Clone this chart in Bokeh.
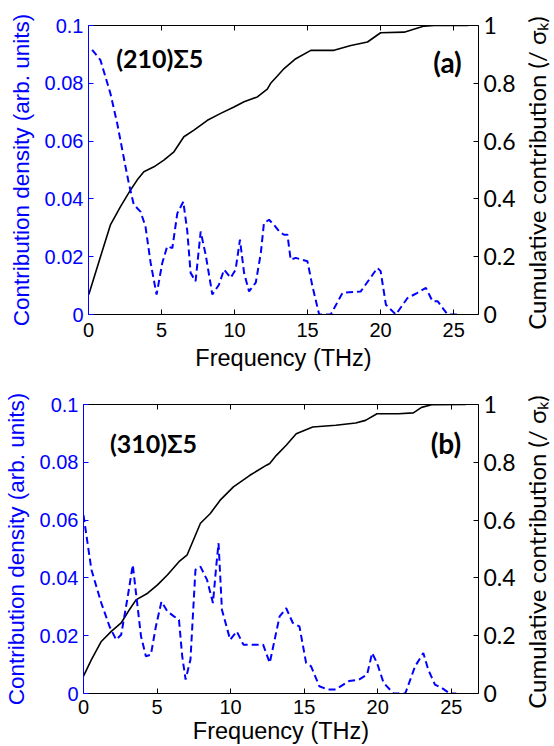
import math
from bokeh.plotting import figure
from bokeh.models import Range1d, LinearAxis, Label, CustomJSTickFormatter, FixedTicker
from bokeh.layouts import column, row
from bokeh.embed import file_html
from bokeh.resources import INLINE

# ---- Panel (a): (210)Σ5 ----
a_dens_f = [0.25, 0.82, 1.5, 1.97, 2.54, 2.76, 3.1, 3.56, 3.9, 4.25, 4.66, 5.05, 5.39, 5.74, 6.08, 6.49,
            6.76, 6.99, 7.33, 7.68, 8.02, 8.48, 8.93, 9.28, 9.73, 10.07, 10.37, 10.65, 10.99, 11.45,
            11.8, 12.01, 12.36, 12.7, 13.1, 13.39, 13.62, 13.84, 14.19, 14.99, 15.33, 15.79, 16.59,
            17.39, 18.64, 19.78, 20.0, 20.36, 21.04, 21.84, 22.52, 23.1, 23.55, 23.9, 24.58, 25.38]
a_dens = [0.0916, 0.088, 0.0765, 0.066, 0.051, 0.0454, 0.038, 0.0356, 0.0305, 0.018, 0.0069, 0.0178,
          0.0236, 0.023, 0.035, 0.039, 0.029, 0.0144, 0.0115, 0.0287, 0.0207, 0.0069, 0.0103, 0.0155,
          0.0127, 0.0155, 0.0259, 0.0144, 0.008, 0.011, 0.0213, 0.0316, 0.0328, 0.031, 0.0285, 0.0276,
          0.0276, 0.019, 0.0196, 0.0184, 0.0098, 0.0, 0.0, 0.0075, 0.008, 0.0161, 0.015, 0.0034, 0.0,
          0.0057, 0.0075, 0.0092, 0.0046, 0.0046, 0.0, 0.0]
a_cum_f = [0.02, 0.82, 1.5, 2.19, 2.88, 3.34, 3.79, 4.48, 5.16, 5.85, 6.53, 7.22, 8.14, 9.05, 9.96,
           10.65, 11.56, 12.24, 12.47, 12.93, 13.39, 14.19, 15.22, 16.81, 17.96, 19.1, 20.0, 21.61,
           22.98, 23.67, 26.0]
a_cum = [0.069, 0.2, 0.31, 0.373, 0.431, 0.466, 0.494, 0.511, 0.534, 0.563, 0.615, 0.638, 0.672,
         0.696, 0.718, 0.736, 0.753, 0.78, 0.80, 0.825, 0.851, 0.885, 0.914, 0.914, 0.931, 0.943,
         0.975, 0.977, 0.998, 1.0, 1.0]

# ---- Panel (b): (310)Σ5 ----
b_dens_f = [0.0, 0.54, 1.21, 1.77, 2.22, 2.56, 3.01, 3.35, 3.57, 3.91, 4.24, 4.58, 4.92, 5.3, 5.7,
            6.15, 6.49, 6.71, 6.94, 7.27, 7.61, 7.95, 8.4, 8.8, 9.02, 9.18, 9.41, 9.97, 10.42, 10.87,
            12.21, 12.66, 13.33, 13.78, 14.23, 14.68, 15.13, 15.47, 16.03, 16.59, 17.15, 18.05,
            18.72, 19.28, 19.62, 19.95, 20.4, 21.08, 21.87, 22.54, 23.1, 23.43, 23.89, 24.33, 24.9, 25.34]
b_dens = [0.0617, 0.0428, 0.0313, 0.0232, 0.0186, 0.0203, 0.0336, 0.0445, 0.0347, 0.0198, 0.0129,
          0.0134, 0.0232, 0.0318, 0.0284, 0.0267, 0.0255, 0.0129, 0.0048, 0.0117, 0.0428, 0.0439,
          0.0393, 0.0313, 0.0439, 0.052, 0.029, 0.0186, 0.0215, 0.0169, 0.0169, 0.0106, 0.0267,
          0.0295, 0.0244, 0.0232, 0.0106, 0.0094, 0.0025, 0.0014, 0.0014, 0.0043, 0.0048, 0.0066,
          0.014, 0.0106, 0.0037, 0.0, 0.0, 0.0094, 0.014, 0.0083, 0.0031, 0.002, 0.0, 0.0]
b_cum_f = [0.0, 0.54, 1.21, 1.89, 2.56, 3.12, 3.57, 4.36, 5.03, 5.7, 6.49, 7.05, 7.95, 8.62, 9.29,
           10.19, 11.31, 12.44, 12.66, 13.11, 13.78, 14.46, 15.58, 17.15, 18.5, 19.17, 19.95, 21.41,
           22.42, 22.98, 23.66, 26.0]
b_cum = [0.06, 0.117, 0.18, 0.215, 0.244, 0.29, 0.324, 0.347, 0.376, 0.41, 0.456, 0.48, 0.589, 0.623,
         0.669, 0.715, 0.755, 0.79, 0.796, 0.824, 0.859, 0.899, 0.922, 0.928, 0.936, 0.945, 0.968,
         0.968, 0.971, 0.99, 0.999, 1.0]

x_ticks = [0, 5, 10, 15, 20, 25]
left_ticks = [0, 0.02, 0.04, 0.06, 0.08, 0.1]
right_ticks = [0, 0.2, 0.4, 0.6, 0.8, 1.0]

x_label = "Frequency (THz)"
left_label = "Contribution density (arb. units)"
right_label = "Cumulative contribution (/  σₖ)"

BLUE = "#0000FF"
FONT = "Liberation Sans"
FONT2 = "Lato"
FMT = "return parseFloat(tick.toFixed(4)).toString();"


def style_axis(ax, color, ticks, tick_font=FONT, tick_size="20px", lab_font=FONT, lab_size="22.5px"):
    ax.ticker = FixedTicker(ticks=ticks)
    ax.formatter = CustomJSTickFormatter(code=FMT)
    ax.axis_line_color = color
    ax.major_tick_line_color = color
    ax.major_tick_in = 5
    ax.major_tick_out = 0
    ax.minor_tick_line_color = None
    ax.major_label_text_color = color
    ax.major_label_text_font = tick_font
    ax.major_label_text_font_size = tick_size
    ax.axis_label_text_font = lab_font
    ax.axis_label_text_font_size = lab_size
    ax.axis_label_text_font_style = "normal"
    ax.axis_label_text_color = color
    ax.major_label_standoff = 5
    ax.axis_label_standoff = 6


def make_panel(xmax, borders, df, d, cf, c, name, tag, name_pos, tag_pos, xstand):
    left, right, top, bottom = borders
    p = figure(width=518, height=373, x_range=Range1d(0, xmax), y_range=Range1d(0, 0.1),
               output_backend="svg", toolbar_location=None,
               min_border_left=left, min_border_right=right,
               min_border_top=top, min_border_bottom=bottom)
    p.extra_y_ranges = {"cum": Range1d(0, 1)}
    p.xgrid.visible = False
    p.ygrid.visible = False
    p.outline_line_color = None
    p.background_fill_color = "white"
    p.border_fill_color = "white"

    xa = p.xaxis[0]
    style_axis(xa, "black", x_ticks, lab_size="23.5px")
    xa.axis_label = x_label
    xa.major_label_standoff = xstand[0]
    xa.axis_label_standoff = xstand[1]
    ya = p.yaxis[0]
    style_axis(ya, BLUE, left_ticks)
    ya.axis_label = left_label
    ya.axis_label_standoff = 8

    top_ax = LinearAxis()
    style_axis(top_ax, "black", x_ticks)
    top_ax.formatter = CustomJSTickFormatter(code="return '';")
    top_ax.major_label_standoff = 0
    p.add_layout(top_ax, "above")

    r_ax = LinearAxis(y_range_name="cum")
    style_axis(r_ax, "black", right_ticks, tick_font=FONT2, tick_size="23px")
    p.add_layout(r_ax, "right")

    p.line(cf, c, y_range_name="cum", line_color="black", line_width=1.6)
    p.line(df, d, line_color=BLUE, line_width=2, line_dash="7 4")

    p.add_layout(Label(x=name_pos[0], y=name_pos[1], text=name, text_font="Lato",
                       text_font_style="bold", text_font_size="25px", text_baseline="middle",
                       text_color="black"))
    p.add_layout(Label(x=tag_pos[0], y=tag_pos[1], text=tag, text_font="Lato",
                       text_font_style="bold", text_font_size="28px", text_baseline="middle",
                       text_color="black"))
    return p


def make_right_title(top, bottom):
    # narrow strip carrying the right-hand axis title, reading upward
    q = figure(width=36, height=373, x_range=Range1d(0, 1), y_range=Range1d(0, 1),
               output_backend="svg", toolbar_location=None, x_axis_location=None,
               min_border_left=31, min_border_right=0,
               min_border_top=top, min_border_bottom=bottom)
    q.xgrid.visible = False
    q.ygrid.visible = False
    q.outline_line_color = None
    q.border_fill_color = "white"
    ax = q.yaxis[0]
    ax.ticker = FixedTicker(ticks=[])
    ax.axis_line_color = None
    ax.major_tick_line_color = None
    ax.minor_tick_line_color = None
    ax.axis_label = right_label
    ax.axis_label_text_font = FONT2
    ax.axis_label_text_font_size = "24px"
    ax.axis_label_text_font_style = "normal"
    ax.axis_label_text_color = "black"
    ax.axis_label_standoff = 2
    return q


pa = make_panel(26.7, (88, 40, 25, 58), a_dens_f, a_dens, a_cum_f, a_cum,
                "(210)Σ5", "(a)", (1.9, 0.0886), (23.6, 0.0872), (8, 5))
pb = make_panel(26.85, (82, 37, 31, 52), b_dens_f, b_dens, b_cum_f, b_cum,
                "(310)Σ5", "(b)", (1.8, 0.0866), (23.6, 0.0866), (6, 1))
ra = make_right_title(25, 58)
rb = make_right_title(31, 52)

layout = column(row(pa, ra, spacing=0), row(pb, rb, spacing=0), spacing=0)
open("out.html", "w").write(file_html(layout, INLINE))
